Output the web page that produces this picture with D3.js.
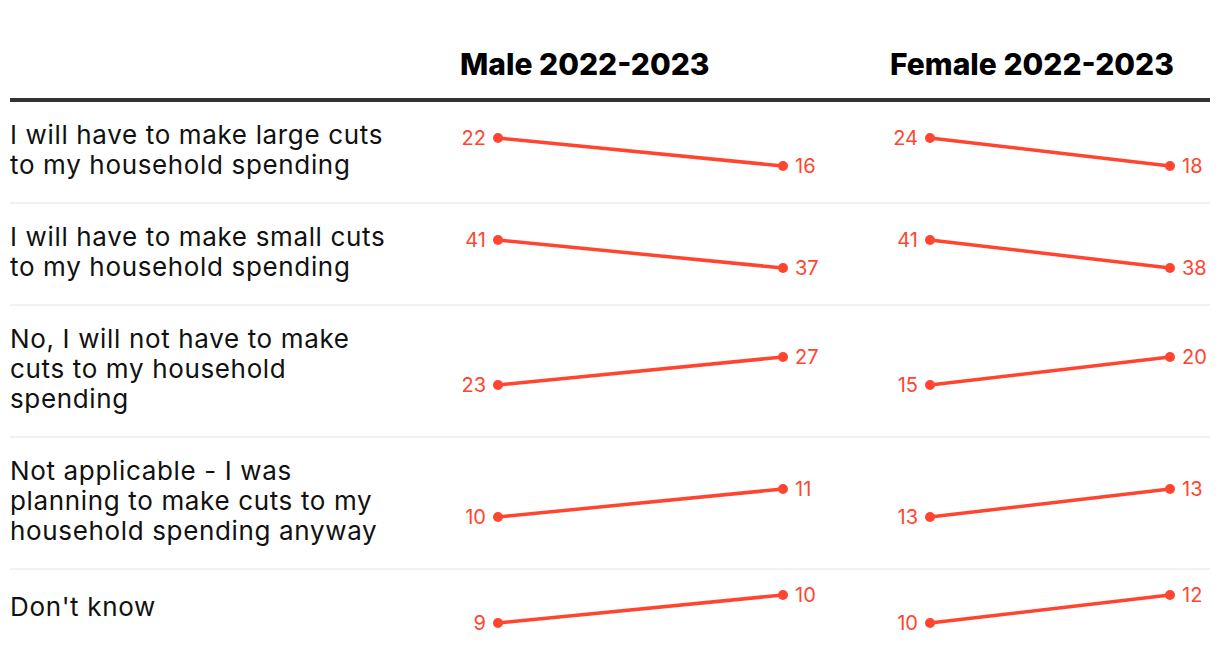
<!DOCTYPE html>
<html><head><meta charset="utf-8">
<script src="https://cdn.jsdelivr.net/npm/d3@7"></script>
<style>
body{margin:0;background:#fff;}
svg{display:block;}
</style></head>
<body><svg id="c" width="1220" height="660"></svg>
<script>
const categories = [
  ["I will have to make large cuts","to my household spending"],
  ["I will have to make small cuts","to my household spending"],
  ["No, I will not have to make","cuts to my household","spending"],
  ["Not applicable - I was","planning to make cuts to my","household spending anyway"],
  ["Don't know"]
];
const groups = ["Male 2022-2023","Female 2022-2023"];
const male2022 = [22, 41, 23, 10, 9];
const male2023 = [16, 37, 27, 11, 10];
const female2022 = [24, 41, 15, 12.8, 10];
const female2023 = [18, 38, 20, 13.2, 12];

const series = [
  {name: groups[0], start: male2022, end: male2023, x0: 498, x1: 783, hx: 460},
  {name: groups[1], start: female2022, end: female2023, x0: 930, x1: 1170, hx: 890}
];

const svg = d3.select("#c");
const red = "#ff4530";
const lineH = 30;
const tableTop = 100;

let yPos = tableTop + 1;
const rows = categories.map((c,i)=>{
  const h = Math.max(c.length*lineH + 42, 80);
  const r = {i, lines:c, y0:yPos, h, cy:yPos+h/2};
  yPos += h;
  return r;
});

svg.selectAll("text.hdr").data(series).join("text")
  .attr("class","hdr")
  .attr("x", d=>d.hx).attr("y", 75)
  .attr("font-family","Inter, 'Open Sans', sans-serif")
  .attr("font-weight", 800)
  .attr("font-size", 30)
  .attr("fill","#000")
  .text(d=>d.name);

svg.selectAll("line.sep").data(rows.slice(1)).join("line")
  .attr("class","sep")
  .attr("x1",10).attr("x2",1210)
  .attr("y1",d=>d.y0).attr("y2",d=>d.y0)
  .attr("stroke","#ececec").attr("stroke-width",1.5);

svg.append("line").attr("x1",10).attr("x2",1210).attr("y1",tableTop).attr("y2",tableTop)
  .attr("stroke","#333").attr("stroke-width",4);

const lab = svg.selectAll("text.cat").data(rows).join("text")
  .attr("class","cat")
  .attr("font-family","Inter, 'Open Sans', sans-serif")
  .attr("font-size", 26)
  .attr("letter-spacing", 0.65)
  .attr("fill","#111");
lab.each(function(r){
  const n = r.lines.length;
  const firstBase = r.cy + 7 - (n-1)*lineH/2;
  d3.select(this).selectAll("tspan").data(r.lines).join("tspan")
    .attr("x",10).attr("y",(d,k)=>firstBase + k*lineH).text(d=>d);
});

series.forEach(s=>{
  rows.forEach(r=>{
    const a = s.start[r.i], b = s.end[r.i];
    const ys = d3.scaleLinear().domain([Math.min(a,b), Math.max(a,b)]).range([r.cy+14, r.cy-14]);
    const g = svg.append("g");
    g.append("line").attr("x1",s.x0).attr("x2",s.x1)
      .attr("y1",ys(a)).attr("y2",ys(b))
      .attr("stroke",red).attr("stroke-width",3.5);
    g.selectAll("circle").data([[s.x0,a],[s.x1,b]]).join("circle")
      .attr("cx",d=>d[0]).attr("cy",d=>ys(d[1])).attr("r",5).attr("fill",red);
    g.append("text").attr("x",s.x0-12).attr("y",ys(a)).attr("dy","0.35em")
      .attr("text-anchor","end").attr("font-family","Inter, 'Open Sans', sans-serif")
      .attr("font-size",20).attr("fill",red).text(Math.round(a));
    g.append("text").attr("x",s.x1+12).attr("y",ys(b)).attr("dy","0.35em")
      .attr("text-anchor","start").attr("font-family","Inter, 'Open Sans', sans-serif")
      .attr("font-size",20).attr("fill",red).text(Math.round(b));
  });
});
</script></body></html>
